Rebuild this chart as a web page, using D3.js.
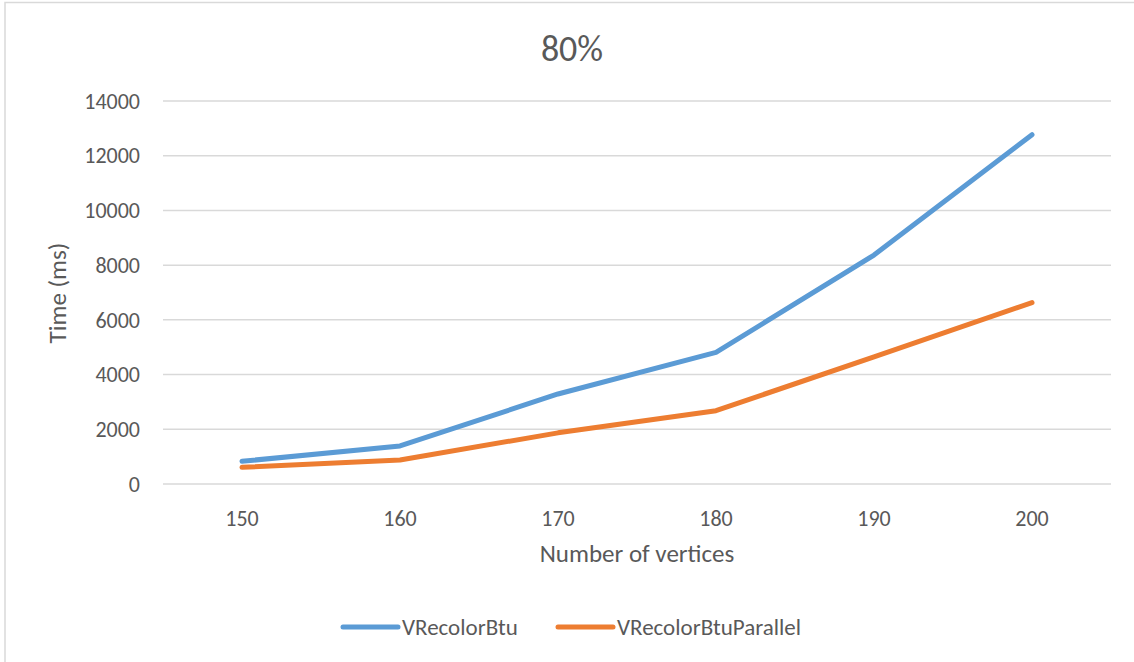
<!DOCTYPE html>
<html><head><meta charset="utf-8">
<script src="https://cdn.jsdelivr.net/npm/d3@7"></script>
<style>body{margin:0;background:#fff;} text{font-family:Carlito,Calibri,Lato,sans-serif;fill:#595959;}</style>
</head><body>
<svg id="c" width="1134" height="662"></svg>
<script>
const categories = ["150","160","170","180","190","200"];
const seriesNames = ["VRecolorBtu","VRecolorBtuParallel"];
const blueValues = [830, 1390, 3290, 4810, 8370, 12770];
const orangeValues = [610, 880, 1870, 2680, 4650, 6630];
const yTicks = [0,2000,4000,6000,8000,10000,12000,14000];
const colors = ["#5B9BD5","#ED7D31"];
const series = [blueValues, orangeValues];

const svg = d3.select("#c");
svg.append("rect").attr("x",5).attr("y",2.5).attr("width",1140).attr("height",670)
  .attr("fill","#fff").attr("stroke","#D9D9D9").attr("stroke-width",1.5);

const L=163,R=1111,T=101,B=484;
const x = d3.scaleBand().domain(categories).range([L,R]);
const y = d3.scaleLinear().domain([0,14000]).range([B,T]);

svg.append("g").selectAll("line").data(yTicks).join("line")
  .attr("x1",L).attr("x2",R).attr("y1",d=>y(d)).attr("y2",d=>y(d))
  .attr("stroke","#D9D9D9").attr("stroke-width",1.5);

svg.append("g").selectAll("text").data(yTicks).join("text")
  .attr("x",140).attr("y",d=>y(d)).attr("dy","0.35em").attr("text-anchor","end")
  .attr("font-size",22).text(d=>d);

svg.append("g").selectAll("text").data(categories).join("text")
  .attr("x",d=>x(d)+x.bandwidth()/2).attr("y",518).attr("dy","0.35em").attr("text-anchor","middle")
  .attr("font-size",22).text(d=>d);

svg.append("text").attr("x",572).attr("y",48).attr("dy","0.35em").attr("text-anchor","middle")
  .attr("font-size",36).text("80%");
svg.append("text").attr("x",637).attr("y",553).attr("dy","0.35em").attr("text-anchor","middle")
  .attr("font-size",25).text("Number of vertices");
svg.append("text").attr("transform","translate(57,293) rotate(-90)").attr("dy","0.35em").attr("text-anchor","middle")
  .attr("font-size",25).text("Time (ms)");

const line = d3.line().x((d,i)=>x(categories[i])+x.bandwidth()/2).y(d=>y(d));
series.forEach((s,k)=>{
  svg.append("path").datum(s).attr("d",line).attr("fill","none")
    .attr("stroke",colors[k]).attr("stroke-width",5).attr("stroke-linecap","round").attr("stroke-linejoin","round");
});

const legX=[343,558];
seriesNames.forEach((n,k)=>{
  svg.append("line").attr("x1",legX[k]).attr("x2",legX[k]+55).attr("y1",627).attr("y2",627)
    .attr("stroke",colors[k]).attr("stroke-width",5).attr("stroke-linecap","round");
  svg.append("text").attr("x",legX[k]+59).attr("y",627).attr("dy","0.35em").attr("font-size",23).text(n);
});
</script>
</body></html>
